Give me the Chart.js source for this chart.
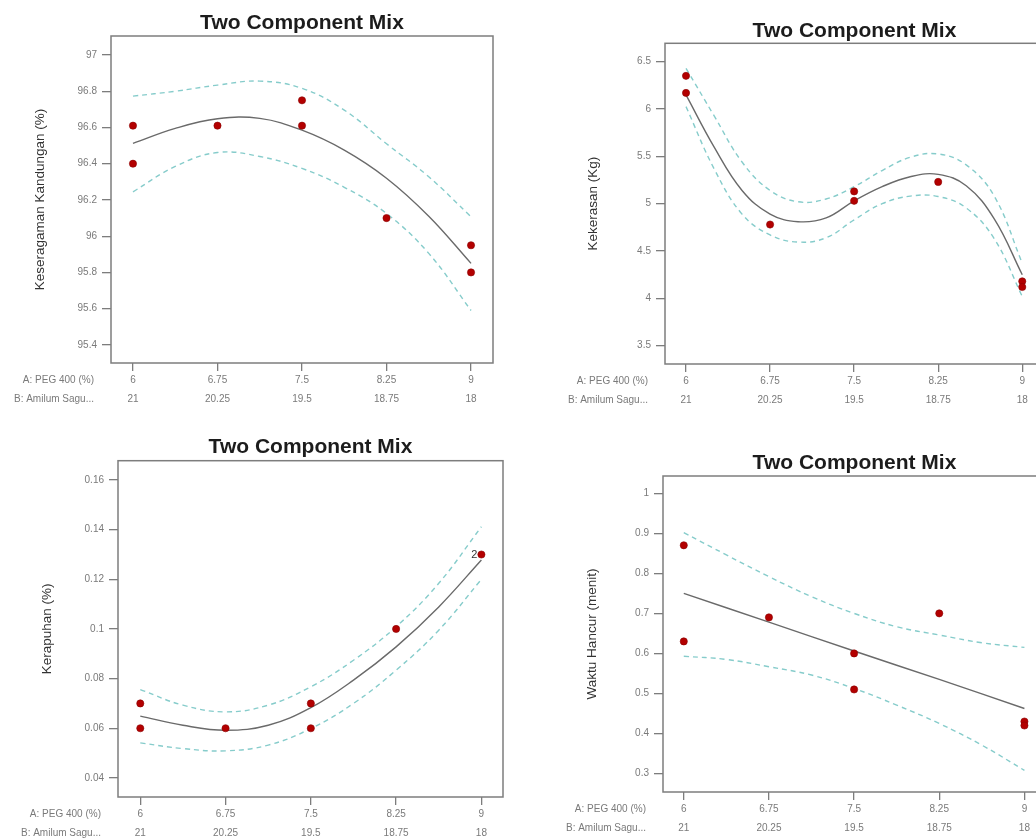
<!DOCTYPE html>
<html lang="id">
<head>
<meta charset="UTF-8">
<title>Two Component Mix</title>
<script src="https://cdn.jsdelivr.net/npm/chart.js"></script>
<style>
  html, body { margin: 0; padding: 0; background: #fff; }
  body { width: 1036px; height: 839px; overflow: hidden; position: relative; }
  canvas { position: absolute; }
</style>
</head>
<body>
<canvas id="cKeseragaman" width="515" height="420" style="left:0;top:0"></canvas>
<canvas id="cKekerasan" width="550" height="420" style="left:520px;top:0"></canvas>
<canvas id="cKerapuhan" width="515" height="440" style="left:0;top:420px"></canvas>
<canvas id="cWaktu" width="550" height="440" style="left:520px;top:420px"></canvas>

<script>
// axis labels shared by all four plots
const pegTicks = [6, 6.75, 7.5, 8.25, 9];
const amilumTicks = ['21', '20.25', '19.5', '18.75', '18'];
const rowNames = ['A: PEG 400 (%)', 'B: Amilum Sagu...'];
const chartTitle = 'Two Component Mix';

const curveX9 = [6, 6.375, 6.75, 7.125, 7.5, 7.875, 8.25, 8.625, 9];
const curveX13 = [6, 6.25, 6.5, 6.75, 7, 7.25, 7.5, 7.75, 8, 8.25, 8.5, 8.75, 9];

// Keseragaman Kandungan
const kkTicks = [95.4, 95.6, 95.8, 96, 96.2, 96.4, 96.6, 96.8, 97];
const kkPtX = [6, 6, 6.75, 7.5, 7.5, 8.25, 9, 9];
const kkPtY = [96.61, 96.40, 96.61, 96.75, 96.61, 96.10, 95.95, 95.80];
const kkFit = [96.512, 96.595, 96.648, 96.650, 96.585, 96.475, 96.32, 96.11, 95.85];
const kkUpper = [96.773, 96.80, 96.834, 96.856, 96.816, 96.696, 96.51, 96.328, 96.107];
const kkLower = [96.245, 96.385, 96.462, 96.44, 96.374, 96.27, 96.125, 95.905, 95.59];

// Kekerasan
const kerTicks = [3.5, 4, 4.5, 5, 5.5, 6, 6.5];
const kerPtX = [6, 6, 6.75, 7.5, 7.5, 8.25, 9, 9];
const kerPtY = [6.35, 6.17, 4.78, 5.13, 5.03, 5.23, 4.18, 4.12];
const kerFit = [6.149, 5.60, 5.14, 4.89, 4.81, 4.85, 5.03, 5.18, 5.285, 5.31, 5.19, 4.84, 4.25];
const kerUpper = [6.43, 5.93, 5.44, 5.14, 5.02, 5.05, 5.18, 5.35, 5.49, 5.525, 5.41, 5.08, 4.373];
const kerLower = [6.025, 5.37, 4.89, 4.67, 4.595, 4.64, 4.83, 5.00, 5.08, 5.076, 4.955, 4.63, 4.021];

// Kerapuhan
const kpTicks = [0.04, 0.06, 0.08, 0.1, 0.12, 0.14, 0.16];
const kpPtX = [6, 6, 6.75, 7.5, 7.5, 8.25, 9];
const kpPtY = [0.07, 0.06, 0.06, 0.07, 0.06, 0.10, 0.13];
const kpCount = [1, 1, 1, 1, 1, 1, 2];
const kpFit = [0.0649, 0.0612, 0.0592, 0.0612, 0.0683, 0.0794, 0.0928, 0.1089, 0.1278];
const kpUpper = [0.0756, 0.0693, 0.0666, 0.0693, 0.0767, 0.0874, 0.1009, 0.1184, 0.1412];
const kpLower = [0.0541, 0.0518, 0.0509, 0.0532, 0.0599, 0.0700, 0.0834, 0.0995, 0.1200];

// Waktu Hancur
const whTicks = [0.3, 0.4, 0.5, 0.6, 0.7, 0.8, 0.9, 1];
const whPtX = [6, 6, 6.75, 7.5, 7.5, 8.25, 9, 9];
const whPtY = [0.87, 0.63, 0.69, 0.60, 0.51, 0.70, 0.43, 0.42];
const whFit = [0.75, 0.678, 0.606, 0.535, 0.4625];
const whUpper = [0.9017, 0.846, 0.7917, 0.7417, 0.70, 0.6667, 0.646, 0.6267, 0.615];
const whLower = [0.593, 0.585, 0.5667, 0.546, 0.5125, 0.471, 0.425, 0.371, 0.308];

Chart.defaults.font.family = '"Liberation Sans", Arial, sans-serif';

const toXY = (xs, ys) => xs.map((x, i) => ({ x: x, y: ys[i] }));
const fmt = v => String(Number(v.toFixed(4)));

// frame round the plot area
const framePlugin = {
    id: 'frame',
    beforeDatasetsDraw(chart) {
        const a = chart.chartArea, ctx = chart.ctx;
        ctx.save();
        ctx.strokeStyle = '#7d7d7d';
        ctx.lineWidth = 1.5;
        ctx.strokeRect(a.left, a.top, a.right - a.left, a.bottom - a.top);
        ctx.restore();
    }
};

// the "A:" / "B:" names left of the two tick rows, and point counts
const extrasPlugin = {
    id: 'extras',
    afterDraw(chart) {
        const ctx = chart.ctx, xs = chart.scales.x;
        ctx.save();
        ctx.font = '10px "Liberation Sans", Arial, sans-serif';
        ctx.fillStyle = '#7a7a7a';
        ctx.textAlign = 'right';
        ctx.textBaseline = 'middle';
        rowNames.forEach((t, i) => {
            ctx.fillText(t, chart.chartArea.left - 17, xs.top + 8 + 9.25 + i * 18.5);
        });
        const ds = chart.data.datasets[0];
        if (ds.counts) {
            const meta = chart.getDatasetMeta(0);
            ctx.font = '11px "Liberation Sans", Arial, sans-serif';
            ctx.fillStyle = '#333';
            meta.data.forEach((el, i) => {
                if (ds.counts[i] > 1) ctx.fillText(String(ds.counts[i]), el.x - 4, el.y);
            });
        }
        ctx.restore();
    }
};

function makePanel(id, p) {
    const datasets = [
        {
            label: 'Design points',
            type: 'scatter',
            data: toXY(p.ptX, p.ptY),
            counts: p.counts,
            backgroundColor: '#b30000',
            borderColor: '#8a0000',
            borderWidth: 0.6,
            pointRadius: 3.6,
            order: 0
        },
        {
            label: 'Prediction',
            type: 'line',
            data: toXY(p.fitX, p.fit),
            borderColor: '#6a6a6a',
            borderWidth: 1.4,
            pointRadius: 0,
            fill: false,
            tension: 0.4,
            order: 1
        },
        {
            label: '95% CI high',
            type: 'line',
            data: toXY(p.bandX, p.upper),
            borderColor: '#86cccb',
            borderWidth: 1.4,
            borderDash: [5, 4],
            pointRadius: 0,
            fill: false,
            tension: 0.4,
            order: 2
        },
        {
            label: '95% CI low',
            type: 'line',
            data: toXY(p.bandX, p.lower),
            borderColor: '#86cccb',
            borderWidth: 1.4,
            borderDash: [5, 4],
            pointRadius: 0,
            fill: false,
            tension: 0.4,
            order: 3
        }
    ];

    new Chart(document.getElementById(id), {
        type: 'scatter',
        data: { datasets: datasets },
        plugins: [framePlugin, extrasPlugin],
        options: {
            responsive: false,
            animation: false,
            layout: { padding: { left: 0, top: 0, right: p.padRight, bottom: 0 } },
            plugins: {
                legend: { display: false },
                tooltip: { enabled: false },
                title: {
                    display: true,
                    text: chartTitle,
                    fullSize: false,
                    color: '#1c1c1c',
                    font: { size: 21, weight: 'bold', lineHeight: 1 },
                    padding: { top: p.titleTop, bottom: p.titleBottom }
                }
            },
            scales: {
                x: {
                    type: 'linear',
                    min: p.xMin,
                    max: p.xMax,
                    afterBuildTicks: s => { s.ticks = pegTicks.map(v => ({ value: v })); },
                    afterFit: s => { s.height = p.axisH; },
                    border: { display: false },
                    grid: { drawOnChartArea: false, drawTicks: true, tickLength: 8, color: '#7d7d7d', lineWidth: 1.3 },
                    ticks: {
                        autoSkip: false,
                        maxRotation: 0,
                        padding: 0,
                        color: '#7a7a7a',
                        font: { size: 10, lineHeight: 1.85 },
                        callback: (v, i) => [fmt(v), amilumTicks[i]]
                    }
                },
                y: {
                    type: 'linear',
                    min: p.yMin,
                    max: p.yMax,
                    afterBuildTicks: s => { s.ticks = p.yTicks.map(v => ({ value: v })); },
                    afterFit: s => { s.width = p.axisW; },
                    border: { display: false },
                    grid: { drawOnChartArea: false, drawTicks: true, tickLength: 9, color: '#7d7d7d', lineWidth: 1.3 },
                    ticks: {
                        padding: 5,
                        color: '#7a7a7a',
                        font: { size: 10 },
                        callback: v => fmt(v)
                    },
                    title: {
                        display: true,
                        text: p.yTitle,
                        color: '#333',
                        font: { size: 13.5, lineHeight: 1.2 },
                        padding: { top: p.yTitleX - 8.1, bottom: 0 }
                    }
                }
            }
        }
    });
}

makePanel('cKeseragaman', {
    ptX: kkPtX, ptY: kkPtY, fitX: curveX9, fit: kkFit, bandX: curveX9, upper: kkUpper, lower: kkLower,
    yTicks: kkTicks, yTitle: 'Keseragaman Kandungan (%)', yTitleX: 40,
    xMin: 5.805, xMax: 9.195, yMin: 95.30, yMax: 97.105,
    axisW: 111, axisH: 57, padRight: 22, titleTop: 12.5, titleBottom: 2.5
});

makePanel('cKekerasan', {
    ptX: kerPtX, ptY: kerPtY, fitX: curveX13, fit: kerFit, bandX: curveX13, upper: kerUpper, lower: kerLower,
    yTicks: kerTicks, yTitle: 'Kekerasan (Kg)', yTitleX: 73,
    xMin: 5.8125, xMax: 9.194, yMin: 3.307, yMax: 6.694,
    axisW: 145, axisH: 56, padRight: 26, titleTop: 20.8, titleBottom: 1.5
});

makePanel('cKerapuhan', {
    ptX: kpPtX, ptY: kpPtY, counts: kpCount, fitX: curveX9, fit: kpFit, bandX: curveX9, upper: kpUpper, lower: kpLower,
    yTicks: kpTicks, yTitle: 'Kerapuhan (%)', yTitleX: 47,
    xMin: 5.804, xMax: 9.19, yMin: 0.0323, yMax: 0.1678,
    axisW: 118, axisH: 63, padRight: 12, titleTop: 17, titleBottom: 2.7
});

makePanel('cWaktu', {
    ptX: whPtX, ptY: whPtY, fitX: pegTicks, fit: whFit, bandX: curveX9, upper: whUpper, lower: whLower,
    yTicks: whTicks, yTitle: 'Waktu Hancur (menit)', yTitleX: 72,
    xMin: 5.817, xMax: 9.19, yMin: 0.254, yMax: 1.043,
    axisW: 143, axisH: 68, padRight: 24, titleTop: 32.8, titleBottom: 2.2
});
</script>
</body>
</html>
